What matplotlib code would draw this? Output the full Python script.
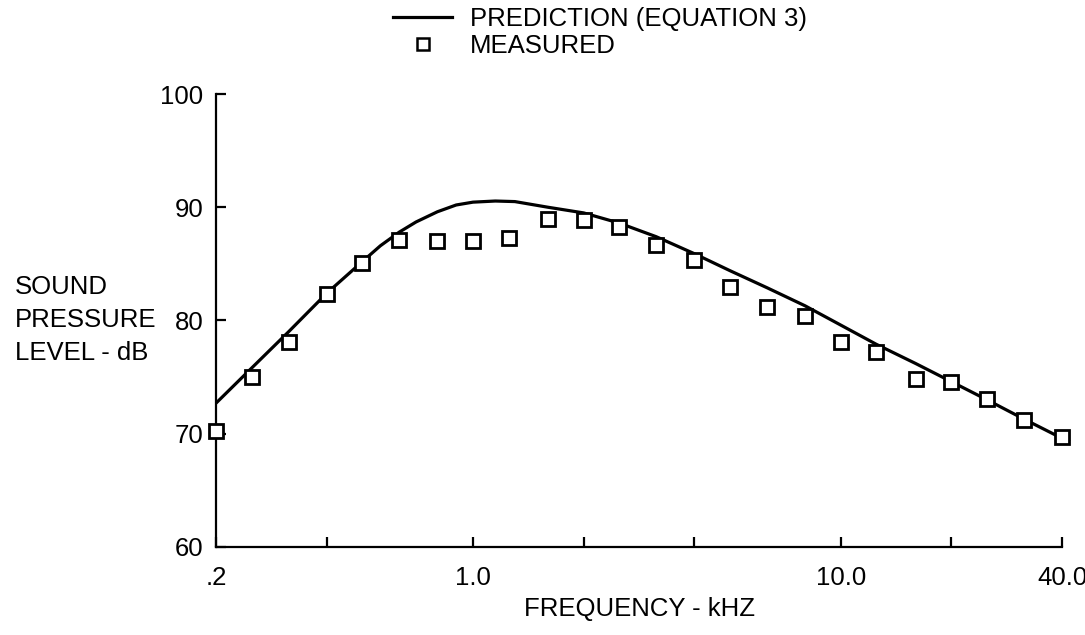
import matplotlib
matplotlib.use("Agg")
import matplotlib.pyplot as plt
from matplotlib.lines import Line2D

plt.rcParams['font.family'] = ['Liberation Sans', 'DejaVu Sans']

# Prediction (Equation 3) curve
pred_freq = [0.2, 0.25, 0.315, 0.4, 0.5, 0.56, 0.63, 0.7, 0.8, 0.9, 1.0, 1.15, 1.3,
             1.6, 2.0, 2.5, 3.15, 4.0, 5.0, 6.3, 8.0, 10.0, 12.5, 16.0, 20.0, 25.0,
             31.5, 40.0, 42.0]
pred_db = [72.7, 75.8, 79.0, 82.4, 85.2, 86.6, 87.8, 88.7, 89.6, 90.2, 90.45, 90.55, 90.5,
           90.0, 89.5, 88.6, 87.4, 85.9, 84.4, 82.9, 81.3, 79.6, 77.9, 76.2, 74.6, 73.0,
           71.3, 69.6, 69.3]

# Measured points
meas_freq = [0.2, 0.25, 0.315, 0.4, 0.5, 0.63, 0.8, 1.0, 1.25, 1.6, 2.0, 2.5, 3.15,
             4.0, 5.0, 6.3, 8.0, 10.0, 12.5, 16.0, 20.0, 25.0, 31.5, 40.0]
meas_db = [70.2, 75.0, 78.1, 82.3, 85.1, 87.1, 87.0, 87.0, 87.3, 89.0, 88.9, 88.3, 86.7,
           85.3, 83.0, 81.2, 80.4, 78.1, 77.2, 74.8, 74.6, 73.1, 71.2, 69.7]

xticks = [0.2, 0.4, 1.0, 2.0, 4.0, 10.0, 20.0, 40.0]
xticklabels = ['.2', '', '1.0', '', '', '10.0', '', '40.0']
yticks = [60, 70, 80, 90, 100]
yticklabels = ['60', '70', '80', '90', '100']

fs = 18.5

fig = plt.figure(figsize=(10.85, 6.35), dpi=100)
ax = fig.add_axes([216/1085, 1-547/635, (1062-216)/1085, (547-94)/635])

ax.plot(pred_freq, pred_db, color='black', lw=2.3, solid_capstyle='butt', clip_on=False,
        label='PREDICTION (EQUATION 3)')
ax.plot(meas_freq, meas_db, linestyle='none', marker='s', markersize=10,
        markerfacecolor='white', markeredgecolor='black', markeredgewidth=2.0,
        clip_on=False, label='MEASURED', zorder=3)

ax.set_xscale('log')
ax.set_xlim(0.2, 40.0)
ax.set_ylim(60, 100)
ax.set_xticks(xticks)
ax.set_xticklabels(xticklabels)
ax.minorticks_off()
ax.set_yticks(yticks)
ax.set_yticklabels(yticklabels)

for s in ['top', 'right']:
    ax.spines[s].set_visible(False)
for s in ['left', 'bottom']:
    ax.spines[s].set_linewidth(1.6)

ax.tick_params(axis='both', direction='in', length=7, width=1.6, labelsize=fs)
ax.tick_params(axis='x', pad=14)
ax.tick_params(axis='y', pad=9)

ax.set_xlabel('FREQUENCY - kHZ', fontsize=fs, labelpad=5)

fig.text(15/1085, 1-320/635, 'SOUND\nPRESSURE\nLEVEL - dB', fontsize=fs,
         ha='left', va='center', linespacing=1.5)

handles = [Line2D([], [], color='black', lw=2.3),
           Line2D([], [], linestyle='none', marker='s', markersize=8,
                  markerfacecolor='white', markeredgecolor='black', markeredgewidth=1.8)]
ax.legend(handles, ['PREDICTION (EQUATION 3)', 'MEASURED'], loc='upper left',
          bbox_to_anchor=(393/1085, 1-7/635), bbox_transform=fig.transFigure,
          frameon=False, fontsize=fs, handlelength=2.3, handletextpad=0.7,
          labelspacing=0.1, borderpad=0, borderaxespad=0)

fig.savefig('out.png', dpi=100)
